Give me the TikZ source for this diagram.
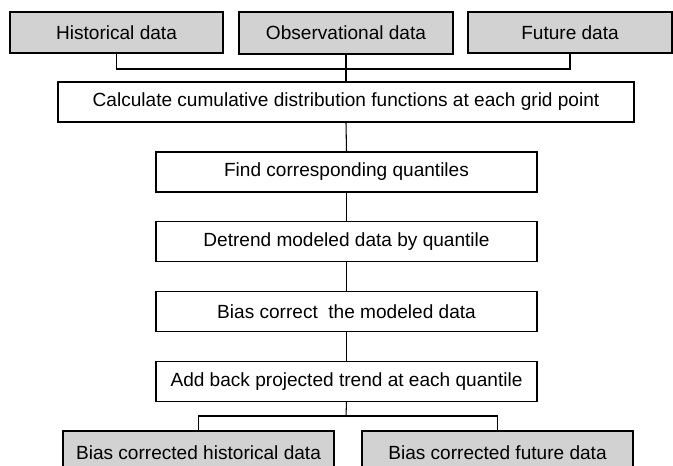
\documentclass[tikz,border=0pt]{standalone}
\usepackage{fontspec}
\setmainfont{Liberation Sans}
\usepackage{xcolor}
\usepackage{tikz}
\definecolor{boxgray}{RGB}{210,210,210}

\begin{document}
\begin{tikzpicture}[x=0.75pt, y=-0.75pt,
		every node/.style={font=\fontsize{14.3}{16}\selectfont},
		stage/.style={draw, line width=0.8pt, fill=white, minimum height=30pt, inner sep=0pt, anchor=center},
		datasource/.style={stage, fill=boxgray},
		link/.style={line width=0.8pt}
	]
			\clip (0,0) rectangle (673,466);

			\node[datasource, minimum width=159.75pt, minimum height=30.75pt] (historical) at (116.5,32.5) {Historical data};
			\node[datasource, minimum width=160.5pt, minimum height=31.5pt] (observational) at (346,33) {Observational data};
			\node[datasource, minimum width=153pt, minimum height=30.75pt] (future) at (570,32.5) {Future data};

			\node[stage, minimum width=432pt] (cdf) at (346,102) {Calculate cumulative distribution functions at each grid point};
			\node[stage, minimum width=285.75pt] (quantiles) at (346.5,172) {Find corresponding quantiles};
			\node[stage, minimum width=285.75pt] (detrend) at (346.5,241.5) {Detrend modeled data by quantile};
			\node[stage, minimum width=285.75pt] (biascorrect) at (346.5,311.5) {Bias correct\ \ the modeled data};
			\node[stage, minimum width=285.75pt] (addback) at (346.5,381.5) {Add back projected trend at each quantile};

			\node[datasource, minimum width=203.25pt, minimum height=33pt] (bchistorical) at (198.5,453) {Bias corrected historical data};
			\node[datasource, minimum width=203.25pt, minimum height=33pt] (bcfuture) at (497.5,453) {Bias corrected future data};

			\coordinate (join) at (346,69);
			\coordinate (split) at (346,416);

			\draw[link] (historical.south) |- (join) -| (future.south);
			\draw[link] (observational.south) -- (cdf.north);
			\draw[link] (cdf.south) -- (quantiles.north);
			\draw[link] (quantiles.south) -- (detrend.north);
			\draw[link] (detrend.south) -- (biascorrect.north);
			\draw[link] (biascorrect.south) -- (addback.north);
			\draw[link] (addback.south) -- (split);
			\draw[link] (bchistorical.north) |- (split) -| (bcfuture.north);
\end{tikzpicture}
\end{document}
